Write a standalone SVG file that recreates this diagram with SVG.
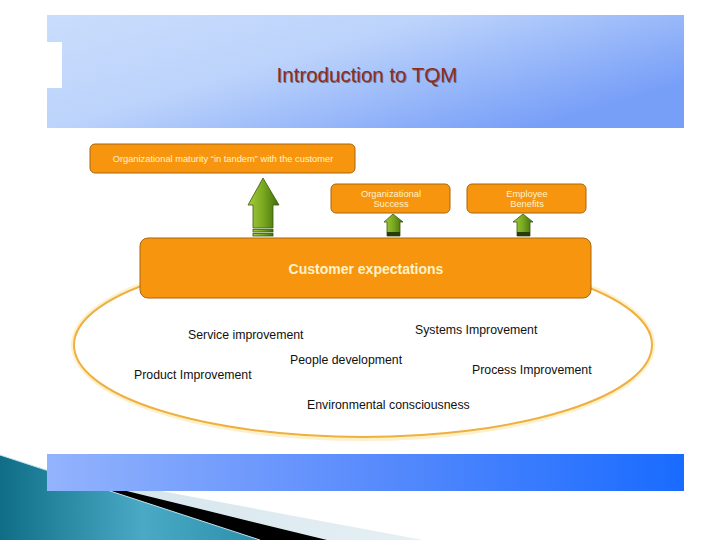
<svg xmlns="http://www.w3.org/2000/svg" width="720" height="540" viewBox="0 0 720 540">
<defs>
<linearGradient id="hdr" x1="0" y1="0" x2="1" y2="0.6">
<stop offset="0" stop-color="#c9ddfc"/>
<stop offset="0.45" stop-color="#bcd3fb"/>
<stop offset="1" stop-color="#789ff8"/>
</linearGradient>
<linearGradient id="ftr" x1="0" y1="0" x2="1" y2="0">
<stop offset="0" stop-color="#93b3fc"/>
<stop offset="0.5" stop-color="#5a8cfc"/>
<stop offset="1" stop-color="#196bff"/>
</linearGradient>
<linearGradient id="teal" x1="0" y1="0" x2="1" y2="0">
<stop offset="0" stop-color="#0f6e86"/>
<stop offset="0.55" stop-color="#4aaac6"/>
<stop offset="1" stop-color="#2c8fab"/>
</linearGradient>
<linearGradient id="light" x1="0" y1="0" x2="1" y2="0">
<stop offset="0" stop-color="#cfe2ea"/>
<stop offset="1" stop-color="#e6f0f4"/>
</linearGradient>
<linearGradient id="grn" x1="0" y1="0" x2="1" y2="0">
<stop offset="0" stop-color="#a6cc3a"/>
<stop offset="0.5" stop-color="#78a820"/>
<stop offset="1" stop-color="#3f6a0c"/>
</linearGradient>
<style>
.box{fill:#f7960e;stroke:#a8650c;stroke-width:1}
.bt{font-family:"Liberation Sans",Arial,sans-serif;fill:#fff2cc;font-size:9.3px;text-anchor:middle}
.big{font-family:"Liberation Sans",Arial,sans-serif;fill:#fff2cc;font-size:14px;font-weight:bold;text-anchor:middle}
.lbl{font-family:"Liberation Sans",Arial,sans-serif;fill:#111;font-size:12.3px}
.arr{fill:url(#grn);stroke:#3a5a0a;stroke-width:0.8}
.ttl{font-family:"Liberation Sans",Arial,sans-serif;font-size:20.5px;text-anchor:middle}
</style>
</defs>
<rect width="720" height="540" fill="#ffffff"/>
<!-- decorative swoosh -->
<polygon points="0,461 423,540 0,540" fill="url(#light)"/>
<polygon points="0,460 327,540 0,540" fill="#000"/>
<polygon points="0,455 260,540 0,540" fill="url(#teal)"/>
<line x1="0" y1="455" x2="260" y2="540" stroke="#bfe4ee" stroke-width="1"/>
<!-- header -->
<rect x="47" y="15" width="637" height="113" fill="url(#hdr)"/>
<rect x="47" y="42" width="15" height="46" fill="#ffffff"/>
<text class="ttl" x="367" y="82" fill="#3a1a10" opacity="0.5" transform="translate(0.8,0.8)">Introduction to TQM</text>
<text class="ttl" x="367" y="82" fill="#8e2c1c">Introduction to TQM</text>
<!-- footer band -->
<rect x="47" y="454" width="637" height="37" fill="url(#ftr)"/>
<!-- ellipse -->
<ellipse cx="363" cy="345" rx="290" ry="94" fill="none" stroke="#fbe6a8" stroke-width="4" opacity="0.6"/>
<ellipse id="scope" cx="363" cy="345" rx="289" ry="92" fill="#ffffff" stroke="#eeb040" stroke-width="2"/>
<g id="connectors">
<path class="arr" d="M263,178 L279,205 L273,205 L273,228 L253,228 L253,205 L248,205 Z"/>
<rect class="arr" x="253" y="229.5" width="20" height="2.5"/>
<rect class="arr" x="253" y="233.5" width="20" height="2.5"/>
<path class="arr" d="M393,214 L403,222 L400,222 L400,236 L387,236 L387,222 L384,222 Z"/>
<rect x="387" y="232" width="13" height="4" fill="#2a3a08"/>
<path class="arr" d="M523,214 L533,222 L530,222 L530,236 L517,236 L517,222 L513,222 Z"/>
<rect x="517" y="232" width="13" height="4" fill="#2a3a08"/>
</g>
<g id="maturity">
<rect class="box" x="90" y="144" width="265" height="29" rx="5"/>
<text class="bt" x="223" y="162" font-size="9.8">Organizational maturity “in tandem” with the customer</text>
</g>
<g id="success">
<rect class="box" x="331" y="184" width="119" height="29" rx="5"/>
<text class="bt" x="391" y="196.5">Organizational</text>
<text class="bt" x="391" y="207">Success</text>
</g>
<g id="benefits">
<rect class="box" x="467" y="184" width="119" height="29" rx="5"/>
<text class="bt" x="527" y="196.5">Employee</text>
<text class="bt" x="527" y="207">Benefits</text>
</g>
<g id="customer">
<rect class="box" x="140" y="238" width="451" height="60" rx="8"/>
<text class="big" x="366" y="274">Customer expectations</text>
</g>
<g id="items">
<text class="lbl" x="188" y="339">Service improvement</text>
<text class="lbl" x="415" y="334">Systems Improvement</text>
<text class="lbl" x="290" y="364">People development</text>
<text class="lbl" x="134" y="379">Product Improvement</text>
<text class="lbl" x="472" y="374">Process Improvement</text>
<text class="lbl" x="307" y="409">Environmental consciousness</text>
</g>
</svg>
